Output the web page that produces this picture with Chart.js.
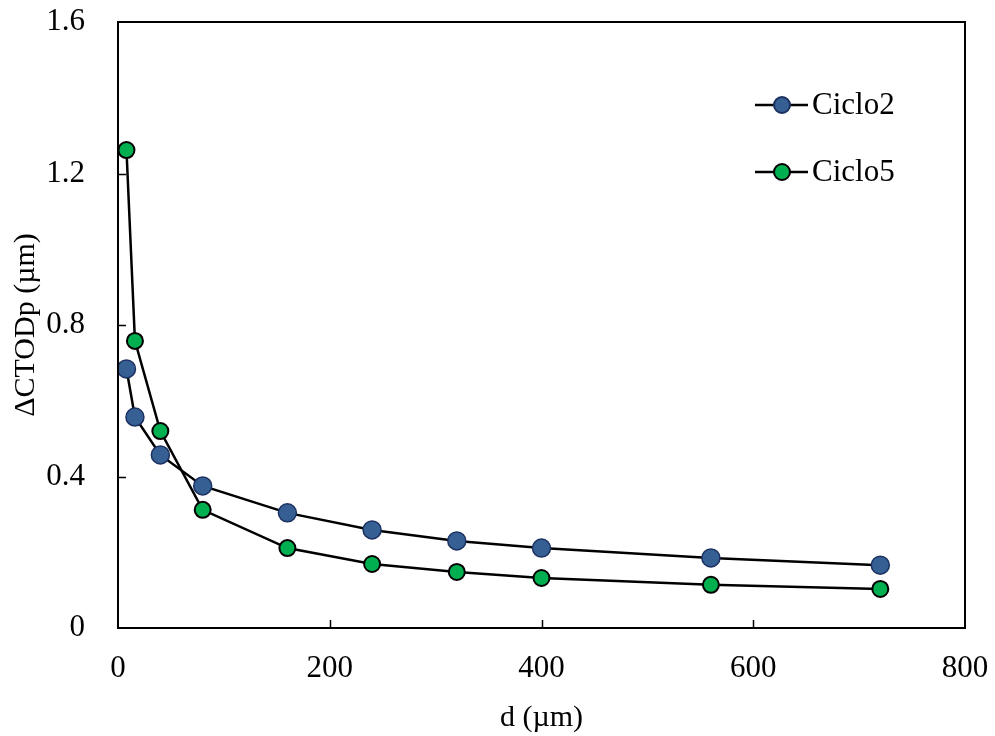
<!DOCTYPE html>
<html>
<head>
<meta charset="utf-8">
<script src="https://cdn.jsdelivr.net/npm/chart.js@4/dist/chart.umd.min.js"></script>
<style>
  html, body { margin: 0; padding: 0; background: #fff; }
  #wrap { width: 995px; height: 736px; }
</style>
</head>
<body>
<div id="wrap"><canvas id="c" width="995" height="736"></canvas></div>
<script>
// distances (um) and delta CTODp values
const dist = [8, 16, 40, 80, 160, 240, 320, 400, 560, 720];
const ciclo2 = [0.684, 0.557, 0.457, 0.375, 0.304, 0.259, 0.230, 0.211, 0.185, 0.166];
const ciclo5 = [1.262, 0.758, 0.520, 0.312, 0.211, 0.169, 0.148, 0.132, 0.114, 0.103];
const xTicks = [0, 200, 400, 600, 800];
const yTicks = [0, 0.4, 0.8, 1.2, 1.6];

const serif = "'Liberation Serif', 'Times New Roman', serif";

function pts(ys) {
    let out = [];
    for (let i = 0; i < dist.length; i++) out.push({ x: dist[i], y: ys[i] });
    return out;
}

// frame + inward ticks + legend with line-and-marker samples
const framePlugin = {
    id: 'frame',
    afterDraw(chart) {
        const ctx = chart.ctx;
        const a = chart.chartArea;
        const xs = chart.scales.x, ys = chart.scales.y;
        ctx.save();
        ctx.strokeStyle = '#000';
        ctx.lineWidth = 2;
        ctx.strokeRect(a.left, a.top, a.right - a.left, a.bottom - a.top);
        ctx.lineWidth = 1.5;
        ctx.beginPath();
        xTicks.slice(1, -1).forEach(v => {
            const px = Math.round(xs.getPixelForValue(v)) + 0.5;
            ctx.moveTo(px, a.bottom);
            ctx.lineTo(px, a.bottom - 8);
        });
        yTicks.slice(1, -1).forEach(v => {
            const py = Math.round(ys.getPixelForValue(v)) + 0.5;
            ctx.moveTo(a.left, py);
            ctx.lineTo(a.left + 8, py);
        });
        ctx.stroke();

        // legend
        chart.data.datasets.forEach((ds, i) => {
            const y = 105 + i * 67;
            ctx.strokeStyle = '#000';
            ctx.lineWidth = 2.5;
            ctx.beginPath();
            ctx.moveTo(755, y);
            ctx.lineTo(808, y);
            ctx.stroke();
            ctx.beginPath();
            ctx.arc(782, y, 8, 0, Math.PI * 2);
            ctx.fillStyle = ds.pointBackgroundColor;
            ctx.fill();
            ctx.lineWidth = 2;
            ctx.strokeStyle = ds.pointBorderColor;
            ctx.stroke();
            ctx.fillStyle = '#000';
            ctx.font = '31px ' + serif;
            ctx.textBaseline = 'middle';
            ctx.textAlign = 'left';
            ctx.fillText(ds.label, 812, y + 1);
        });
        ctx.restore();
    }
};

function draw() {
    new Chart(document.getElementById('c'), {
        type: 'scatter',
        data: {
            datasets: [
                {
                    label: 'Ciclo2',
                    data: pts(ciclo2),
                    showLine: true,
                    borderColor: '#000',
                    borderWidth: 2.5,
                    pointRadius: 9,
                    pointHoverRadius: 9,
                    pointBackgroundColor: '#365F94',
                    pointBorderColor: '#1C3160',
                    pointBorderWidth: 1.5
                },
                {
                    label: 'Ciclo5',
                    data: pts(ciclo5),
                    showLine: true,
                    borderColor: '#000',
                    borderWidth: 2.5,
                    pointRadius: 8,
                    pointHoverRadius: 8,
                    pointBackgroundColor: '#00B050',
                    pointBorderColor: '#000',
                    pointBorderWidth: 2
                }
            ]
        },
        options: {
            responsive: false,
            animation: false,
            events: [],
            layout: { padding: { left: 0, right: 30, top: 22, bottom: 0 } },
            plugins: {
                legend: { display: false },
                tooltip: { enabled: false }
            },
            scales: {
                x: {
                    type: 'linear',
                    min: 0,
                    max: 800,
                    afterFit: s => {
                        s.height = 108;
                        s.paddingLeft = 0;
                        s.paddingRight = 0;
                    },
                    afterBuildTicks: s => { s.ticks = xTicks.map(v => ({ value: v })); },
                    grid: { display: false },
                    border: { display: false },
                    ticks: {
                        color: '#000',
                        padding: 14,
                        font: { family: serif, size: 31 },
                        maxRotation: 0
                    },
                    title: {
                        display: true,
                        text: 'd (µm)',
                        color: '#000',
                        font: { family: serif, size: 30 },
                        padding: { top: 0, bottom: 0 }
                    }
                },
                y: {
                    type: 'linear',
                    min: 0,
                    max: 1.6,
                    afterFit: s => {
                        s.width = 118;
                        s.paddingTop = 0;
                        s.paddingBottom = 0;
                    },
                    afterBuildTicks: s => { s.ticks = yTicks.map(v => ({ value: v })); },
                    grid: { display: false },
                    border: { display: false },
                    ticks: {
                        color: '#000',
                        padding: 25,
                        font: { family: serif, size: 31 },
                        callback: v => String(v)
                    },
                    title: {
                        display: true,
                        text: 'ΔCTODp (µm)',
                        color: '#000',
                        font: { family: serif, size: 30 },
                        padding: { top: 8, bottom: 0 }
                    }
                }
            }
        },
        plugins: [framePlugin]
    });
}

Promise.all([
    document.fonts.load("31px 'Liberation Serif'"),
    document.fonts.load("30px 'Liberation Serif'")
]).then(draw, draw);
</script>
</body>
</html>
